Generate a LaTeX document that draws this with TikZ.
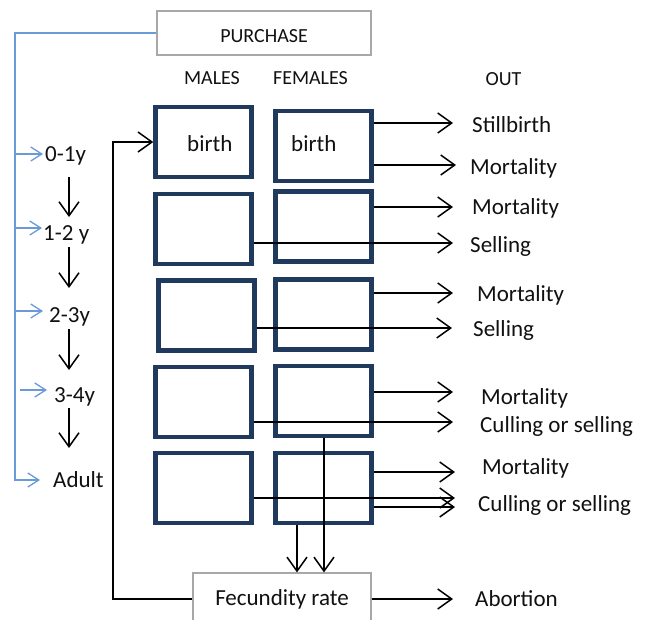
\documentclass[tikz,border=0pt]{standalone}
\usepackage{fontspec}
\setmainfont{Carlito}
\usetikzlibrary{arrows.meta}
\definecolor{boxblue}{HTML}{1F3A5C}
\definecolor{lineblue}{HTML}{6A9BD8}
\definecolor{graybox}{HTML}{A8A8A8}
\definecolor{txt}{HTML}{111111}
\begin{document}
\begin{tikzpicture}[x=1pt,y=-1pt,
 cell/.style={draw=boxblue, line width=4.5pt, minimum width=96pt, minimum height=70pt, inner sep=0pt},
 plain/.style={draw=graybox, line width=1.2pt, inner sep=0pt},
 lab/.style={font=\fontsize{23}{27}\selectfont, text=txt, inner sep=0pt, anchor=base west},
 hdr/.style={font=\fontsize{20}{24}\selectfont, text=txt, inner sep=0pt, anchor=base},
 arr/.style={draw=black, line width=1.5pt, -{Straight Barb[length=14pt,width=20pt,line width=1.5pt]}},
 barr/.style={draw=lineblue, line width=1.3pt, -{Straight Barb[length=11pt,width=14pt,line width=1.3pt]}},
 bl/.style={draw=lineblue, line width=1.3pt},
 ln/.style={draw=black, line width=1.5pt},
]
\useasboundingbox (0,0) rectangle (645,619);
\fill[white] (0,0) rectangle (645,619);

% top box and headers
\node[plain, minimum width=214pt, minimum height=44pt] (purchase) at (264,33) {};
\node[hdr] (ptext) at (264,42) {PURCHASE};
\node[hdr] (males) at (212,84) {MALES};
\node[hdr] (females) at (310.5,84) {FEMALES};
\node[hdr] (out) at (503.5,85) {OUT};

% cells
\node[cell] (m1) at (203.5,142) {};
\node[cell] (f1) at (323.5,146) {};
\node[cell] (m2) at (203.5,229) {};
\node[cell] (f2) at (323.5,226.5) {};
\node[cell] (m3) at (206.5,315.5) {};
\node[cell] (f3) at (323.5,314.5) {};
\node[cell] (m4) at (203.5,402) {};
\node[cell] (f4) at (323.5,401) {};
\node[cell] (m5) at (203.5,488) {};
\node[cell] (f5) at (323.5,488) {};
\node[lab] (bm) at (187,151) {birth};
\node[lab] (bf) at (291,151) {birth};

% fecundity box
\node[plain, minimum width=178pt, minimum height=52pt, font=\fontsize{23}{27}\selectfont, text=txt] (fec) at (282,599) {Fecundity rate};

% age labels
\node[lab] (a1) at (45,161) {0-1y};
\node[lab] (a2) at (43,240) {1-2 y};
\node[lab] (a3) at (49,322) {2-3y};
\node[lab] (a4) at (54,402) {3-4y};
\node[lab] (a5) at (53,487) {Adult};

% out labels
\node[lab] (o1) at (472,132) {Stillbirth};
\node[lab] (o2) at (470,174) {Mortality};
\node[lab] (o3) at (472,214) {Mortality};
\node[lab] (o4) at (470,252) {Selling};
\node[lab] (o5) at (477,301) {Mortality};
\node[lab] (o6) at (473,336) {Selling};
\node[lab] (o7) at (481,404) {Mortality};
\node[lab] (o8) at (480,432) {Culling or selling};
\node[lab] (o9) at (482,474) {Mortality};
\node[lab] (o10) at (478,511) {Culling or selling};
\node[lab] (o11) at (475,606) {Abortion};

% tip coordinates
\coordinate (t1) at (453,123);
\coordinate (t2) at (456,165);
\coordinate (t3) at (453,207);
\coordinate (t4) at (453,243);
\coordinate (t5) at (453,293);
\coordinate (t6) at (452,328);
\coordinate (t7) at (453,392);
\coordinate (t8) at (453,422);
\coordinate (t9) at (455,472);
\coordinate (t10) at (455,498);
\coordinate (t10b) at (455,507);
\coordinate (t11) at (453,599);

% outflow arrows
\draw[arr] (f1.east |- t1) -- (t1);
\draw[arr] (f1.east |- t2) -- (t2);
\draw[arr] (f2.east |- t3) -- (t3);
\draw[arr] (m2.east |- t4) -- (t4);
\draw[arr] (f3.east |- t5) -- (t5);
\draw[arr] (m3.east |- t6) -- (t6);
\draw[arr] (f4.east |- t7) -- (t7);
\draw[arr] (m4.east |- t8) -- (t8);
\draw[arr] (f5.east |- t9) -- (t9);
\draw[arr] (m5.east |- t10) -- (t10);
\draw[arr] (f5.east |- t10b) -- (t10b);
\draw[arr] (fec.east) -- (t11);

% into fecundity
\coordinate (v1) at (297,571);
\coordinate (v2) at (324,571);
\draw[arr] (v1 |- f5.south) -- (v1 |- fec.north);
\draw[arr] (v2 |- f4.south) -- (v2 |- fec.north);

% feedback to birth
\coordinate (fb) at (113,599);
\draw[arr] (fec.west) -- (fb) |- (m1.west);

% purchase distribution (blue)
\coordinate (bc) at (15,480);
\coordinate (b1) at (43,154);
\coordinate (b2) at (42,228);
\coordinate (b3) at (43,311);
\coordinate (b4s) at (20,390);
\coordinate (b4) at (47,390);
\coordinate (b5) at (40,480);
\draw[barr] (purchase.west) -| (bc) -- (b5);
\draw[barr] (b1 -| bc) -- (b1);
\draw[barr] (b2 -| bc) -- (b2);
\draw[barr] (b3 -| bc) -- (b3);
\draw[barr] (b4s) -- (b4);

% ageing arrows
\coordinate (d1) at (69,177);
\coordinate (e1) at (69,217);
\coordinate (d2) at (69,247);
\coordinate (e2) at (69,288);
\coordinate (d3) at (69,329);
\coordinate (e3) at (69,370);
\coordinate (d4) at (69,408);
\coordinate (e4) at (69,448);
\draw[arr] (d1) -- (e1);
\draw[arr] (d2) -- (e2);
\draw[arr] (d3) -- (e3);
\draw[arr] (d4) -- (e4);
\end{tikzpicture}
\end{document}
